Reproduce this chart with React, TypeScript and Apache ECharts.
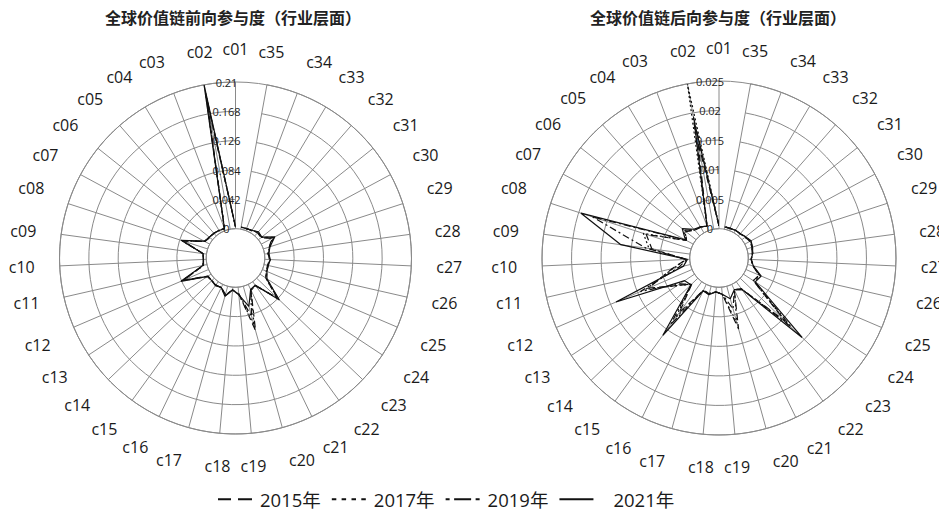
import React, { useEffect, useRef } from 'react';
import * as echarts from 'echarts';

// 35 industry codes, placed counter-clockwise from the top
const industries = [
  'c01', 'c02', 'c03', 'c04', 'c05', 'c06', 'c07', 'c08', 'c09', 'c10',
  'c11', 'c12', 'c13', 'c14', 'c15', 'c16', 'c17', 'c18', 'c19', 'c20',
  'c21', 'c22', 'c23', 'c24', 'c25', 'c26', 'c27', 'c28', 'c29', 'c30',
  'c31', 'c32', 'c33', 'c34', 'c35',
];

const years = ['2015年', '2017年', '2019年', '2021年'];

// Forward participation by industry
const forward2015 = [0.003, 0.186, 0.003, 0.004, 0.005, 0.005, 0.008, 0.037, 0.005, 0.004, 0.005, 0.039, 0.005, 0.005, 0.006, 0.005, 0.012, 0.004, 0.009, 0.066, 0.009, 0.008, 0.040, 0.010, 0.006, 0.005, 0.007, 0.005, 0.009, 0.017, 0.005, 0.006, 0.004, 0.003, 0.003];
const forward2017 = [0.003, 0.192, 0.003, 0.004, 0.005, 0.006, 0.008, 0.038, 0.005, 0.004, 0.005, 0.040, 0.006, 0.005, 0.006, 0.005, 0.013, 0.004, 0.010, 0.058, 0.009, 0.007, 0.041, 0.010, 0.006, 0.006, 0.007, 0.005, 0.009, 0.018, 0.006, 0.007, 0.004, 0.003, 0.003];
const forward2019 = [0.003, 0.198, 0.003, 0.004, 0.005, 0.006, 0.008, 0.039, 0.005, 0.004, 0.006, 0.041, 0.006, 0.005, 0.006, 0.005, 0.014, 0.004, 0.010, 0.045, 0.008, 0.007, 0.043, 0.011, 0.007, 0.006, 0.008, 0.006, 0.010, 0.020, 0.006, 0.007, 0.004, 0.003, 0.003];
const forward2021 = [0.003, 0.210, 0.003, 0.004, 0.005, 0.006, 0.009, 0.040, 0.005, 0.004, 0.006, 0.043, 0.006, 0.005, 0.007, 0.005, 0.015, 0.004, 0.011, 0.030, 0.008, 0.006, 0.045, 0.012, 0.007, 0.006, 0.008, 0.006, 0.010, 0.022, 0.006, 0.008, 0.004, 0.003, 0.003];

// Backward participation by industry
const backward2015 = [0.0005, 0.0150, 0.0008, 0.0011, 0.0013, 0.0022, 0.0013, 0.0080, 0.0065, 0.0006, 0.0032, 0.0080, 0.0035, 0.0014, 0.0065, 0.0011, 0.0013, 0.0008, 0.0012, 0.0075, 0.0010, 0.0015, 0.0105, 0.0020, 0.0024, 0.0009, 0.0005, 0.0007, 0.0009, 0.0010, 0.0007, 0.0005, 0.0005, 0.0004, 0.0004];
const backward2017 = [0.0005, 0.0250, 0.0008, 0.0011, 0.0013, 0.0024, 0.0013, 0.0085, 0.0070, 0.0006, 0.0030, 0.0085, 0.0035, 0.0015, 0.0075, 0.0011, 0.0013, 0.0008, 0.0012, 0.0065, 0.0010, 0.0015, 0.0110, 0.0020, 0.0025, 0.0009, 0.0005, 0.0007, 0.0009, 0.0010, 0.0007, 0.0005, 0.0005, 0.0004, 0.0004];
const backward2019 = [0.0005, 0.0195, 0.0008, 0.0012, 0.0014, 0.0026, 0.0014, 0.0176, 0.0075, 0.0005, 0.0020, 0.0095, 0.0030, 0.0015, 0.0090, 0.0012, 0.0014, 0.0008, 0.0012, 0.0040, 0.0010, 0.0016, 0.0120, 0.0022, 0.0026, 0.0010, 0.0005, 0.0008, 0.0010, 0.0011, 0.0008, 0.0005, 0.0005, 0.0004, 0.0004];
const backward2021 = [0.0005, 0.0185, 0.0008, 0.0012, 0.0015, 0.0030, 0.0015, 0.0196, 0.0118, 0.0004, 0.0012, 0.0140, 0.0020, 0.0016, 0.0112, 0.0012, 0.0015, 0.0008, 0.0012, 0.0022, 0.0010, 0.0016, 0.0145, 0.0024, 0.0028, 0.0010, 0.0005, 0.0008, 0.0010, 0.0012, 0.0008, 0.0005, 0.0005, 0.0004, 0.0004];

const forwardMax = 0.21;
const forwardStep = 0.042;
const backwardMax = 0.025;
const backwardStep = 0.005;

const titles = ['全球价值链前向参与度（行业层面）', '全球价值链后向参与度（行业层面）'];

const GRID = '#8a8a8a';
const INK = '#111';
const LATIN = "'Open Sans', 'Noto Sans CJK SC', sans-serif";
const CJK = "'Noto Sans CJK SC', 'Open Sans', sans-serif";

const dashPatterns: (number[] | 'solid')[] = [[7, 4], [2, 2.5], [7, 3, 2, 3], 'solid'];

// legend glyphs drawn as filled bars inside a 34x2 box
const legendIcons = [
  'path://M0 0H13V2H0Z M20 0H34V2H20Z',
  'path://M0 0H4.5V2H0Z M9.8 0H14.3V2H9.8Z M19.7 0H24.2V2H19.7Z M29.5 0H34V2H29.5Z',
  'path://M0 0H4V2H0Z M8.5 0H25.5V2H8.5Z M30 0H34V2H30Z',
  'path://M0 0H34V2H0Z',
];

function closedLoop(values: number[]) {
  const pts = values.map((v, i) => [v, i]);
  pts.push([values[0], 0]);
  return pts;
}

function polarAxes(index: number, max: number, step: number) {
  const angleAxis = {
    polarIndex: index,
    type: 'category',
    data: industries,
    boundaryGap: false,
    startAngle: 90,
    clockwise: false,
    axisLine: { show: true, lineStyle: { color: GRID, width: 1 } },
    axisTick: { show: false },
    splitLine: { show: true, interval: 0, lineStyle: { color: GRID, width: 1 } },
    axisLabel: {
      interval: 0,
      margin: 25,
      fontSize: 16,
      color: '#1a1a1a',
      fontFamily: LATIN,
    },
  };
  const radiusAxis = {
    polarIndex: index,
    type: 'value',
    min: 0,
    max,
    interval: step,
    axisLine: { show: false },
    axisTick: { show: false },
    splitLine: { show: true, lineStyle: { color: GRID, width: 1 } },
    axisLabel: {
      show: true,
      margin: 9,
      align: 'center',
      verticalAlign: 'middle',
      fontSize: 11,
      color: '#222',
      fontFamily: LATIN,
      showMinLabel: true,
      showMaxLabel: true,
    },
    z: 5,
  };
  return { angleAxis, radiusAxis };
}

export default function App() {
  const ref = useRef<HTMLDivElement>(null);

  useEffect(() => {
    if (!ref.current) return;
    const chart = echarts.init(ref.current, null, { renderer: 'svg' });

    const left = polarAxes(0, forwardMax, forwardStep);
    const right = polarAxes(1, backwardMax, backwardStep);

    const forwardSets = [forward2015, forward2017, forward2019, forward2021];
    const backwardSets = [backward2015, backward2017, backward2019, backward2021];

    const makeSeries = (sets: number[][], polarIndex: number) =>
      sets.map((vals, k) => ({
        type: 'line',
        name: years[k],
        coordinateSystem: 'polar',
        polarIndex,
        data: closedLoop(vals),
        symbol: 'none',
        smooth: false,
        lineStyle: { color: INK, width: 1.2, type: dashPatterns[k] },
        itemStyle: { color: INK },
        z: 3 + k,
      }));

    chart.setOption({
      animation: false,
      backgroundColor: '#fff',
      title: titles.map((t, i) => ({
        text: t,
        left: i === 0 ? 233 : 718,
        top: 9,
        padding: 0,
        textAlign: 'center',
        textStyle: { fontSize: 16, fontWeight: 'bold', color: '#222', fontFamily: CJK },
      })),
      legend: {
        left: 218,
        top: 490,
        padding: 0,
        itemWidth: 34,
        itemHeight: 2,
        itemGap: 11,
        selectedMode: false,
        textStyle: { fontSize: 18.5, color: '#1a1a1a', fontFamily: LATIN, padding: [0, 0, 0, 3] },
        data: years.map((y, k) => ({
          name: y,
          icon: legendIcons[k],
          itemStyle: { color: INK },
          ...(k === 3 ? { textStyle: { padding: [0, 0, 0, 15] } } : {}),
        })),
      },
      polar: [
        { center: [235.5, 258], radius: [29.3, 176] },
        { center: [719, 258], radius: [29.3, 177] },
      ],
      angleAxis: [left.angleAxis, right.angleAxis],
      radiusAxis: [left.radiusAxis, right.radiusAxis],
      series: [...makeSeries(forwardSets, 0), ...makeSeries(backwardSets, 1)],
    });

    return () => chart.dispose();
  }, []);

  return (
    <div
      ref={ref}
      style={{ position: 'absolute', left: 0, top: 0, width: 939, height: 512 }}
    />
  );
}
